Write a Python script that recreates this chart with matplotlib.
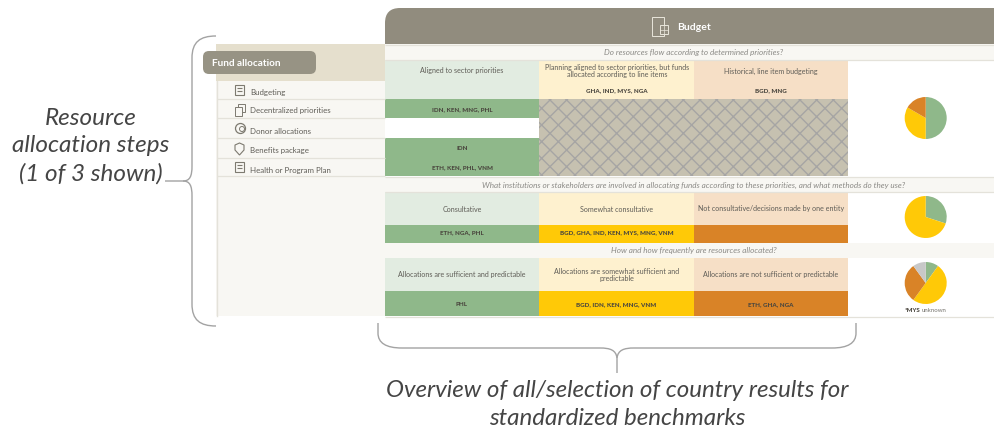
import matplotlib
matplotlib.use('Agg')
import matplotlib.pyplot as plt
from matplotlib.patches import Circle, FancyBboxPatch, PathPatch, Polygon, Rectangle
from matplotlib.path import Path

plt.rcParams['font.family'] = ['Lato', 'DejaVu Sans']
plt.rcParams['hatch.linewidth'] = 1.0

W, H = 994, 430

# Data
header_title = 'Budget'
section_title = 'Fund allocation'
row_labels = ['Budgeting', 'Decentralized priorities', 'Donor allocations',
              'Benefits package', 'Health or Program Plan']
questions = ['Do resources flow according to determined priorities?',
             'What institutions or stakeholders are involved in allocating funds according to these priorities, and what methods do they use?',
             'How and how frequently are resources allocated?']
q1_levels = ['Aligned to sector priorities',
             'Planning aligned to sector priorities, but funds\nallocated according to line items',
             'Historical, line item budgeting']
q1_countries = ['GHA, IND, MYS, NGA', 'BGD, MNG']
q1_green = ['IDN, KEN, MNG, PHL', '', 'IDN', 'ETH, KEN, PHL, VNM']
q2_levels = ['Consultative', 'Somewhat consultative', 'Not consultative/decisions made by one entity']
q2_countries = ['ETH, NGA, PHL', 'BGD, GHA, IND, KEN, MYS, MNG, VNM', '']
q3_levels = ['Allocations are sufficient and predictable',
             'Allocations are somewhat sufficient and\npredictable',
             'Allocations are not sufficient or predictable']
q3_countries = ['PHL', 'BGD, IDN, KEN, MNG, VNM', 'ETH, GHA, NGA']
pie1_values = [6, 4, 2]
pie2_values = [3, 7]
pie3_values = [1, 5, 3, 1]
left_note = 'Resource\nallocation steps\n(1 of 3 shown)'
bottom_note = 'Overview of all/selection of country results for\nstandardized benchmarks'

# Colours
GREEN, YELLOW, ORANGE, GREY = '#8fb88a', '#ffc907', '#d98327', '#c8c8c8'
LIGHT = ['#e2ece1', '#fef1cf', '#f6dfc6']
STRONG = [GREEN, YELLOW, ORANGE]
HEADER = '#918c7e'
PAPER = '#f8f7f3'
BEIGE = '#e5dfcd'
LINE = '#e4e2da'
TEXT = '#5f5d57'
NOTE = '#454545'
ICON = '#7d7a70'

COLS = [385, 539, 694, 848]

fig = plt.figure(figsize=(W / 100, H / 100), dpi=100)
ax = fig.add_axes([0, 0, 1, 1])
ax.set_xlim(0, W)
ax.set_ylim(H, 0)
ax.axis('off')


def box(x0, y0, x1, y1, color, **kw):
    ax.add_patch(Rectangle((x0, y0), x1 - x0, y1 - y0, facecolor=color, edgecolor='none', **kw))


def rounded(x0, y0, x1, y1, r, color):
    ax.add_patch(FancyBboxPatch((x0, y0), x1 - x0, y1 - y0, boxstyle=f'round,pad=0,rounding_size={r}',
                                facecolor=color, edgecolor='none', mutation_aspect=1))


def curve(points, lw=1.0):
    # points: start, then (ctrl, ctrl, end) triples for bezier segments, or single points for lines
    verts, codes = [points[0]], [Path.MOVETO]
    for seg in points[1:]:
        if len(seg) == 3:
            verts += list(seg)
            codes += [Path.CURVE4] * 3
        else:
            verts.append(seg)
            codes.append(Path.LINETO)
    ax.add_patch(PathPatch(Path(verts, codes), fill=False, edgecolor='#a3a3a3', lw=lw))


def cell_text(x, y, s, size=5.15):
    ax.text(x, y, s, ha='center', va='center', fontsize=size, color=TEXT, linespacing=1.0)


def codes_text(x, y, s, size=4.5):
    ax.text(x, y, s, ha='center', va='center', fontsize=size, color='#4a463e', fontweight='black')


def question(y, s):
    ax.text(694, y, s, ha='center', va='center', fontsize=5.9, color='#8b8a86', style='italic')


def hline(x0, x1, y, color=LINE, lw=0.9):
    ax.plot([x0, x1], [y, y], color=color, lw=lw, solid_capstyle='butt')


def doc_icon(x, y, w=9, h=10):
    ax.add_patch(Rectangle((x, y), w, h, facecolor='none', edgecolor=ICON, lw=0.8))
    for i in range(2):
        hline(x + 2, x + w - 2, y + 3 + i * 3, color=ICON, lw=0.8)


def pie(cx, cy, r, values, colors):
    pax = fig.add_axes([(cx - r) / W, 1 - (cy + r) / H, 2 * r / W, 2 * r / H])
    pax.pie(values, colors=colors, startangle=90, counterclock=False, radius=1)
    pax.set_xlim(-1, 1)
    pax.set_ylim(-1, 1)


# Left panel
box(216, 44, 385, 316, PAPER)
box(216, 44, 385, 81, BEIGE)
ax.plot([216.5, 216.5], [81, 316], color=LINE, lw=1)
for y in [99, 118, 138, 158, 176]:
    hline(217, 385, y)
rounded(203, 51, 316, 74, 6, '#979384')
ax.text(212, 63.5, section_title, ha='left', va='center', fontsize=7.2, color='white', fontweight='bold')
for y, label in zip([92, 111, 131, 151, 170], row_labels):
    ax.text(250, y, label, ha='left', va='center', fontsize=5.7, color=TEXT)

# Row icons
doc_icon(235, 85)
ax.add_patch(Rectangle((238, 104), 7, 8, facecolor='none', edgecolor=ICON, lw=0.7))
ax.add_patch(Rectangle((235, 107), 7, 9, facecolor=PAPER, edgecolor=ICON, lw=0.7))
ax.add_patch(Circle((240.5, 128.5), 5, facecolor='none', edgecolor=ICON, lw=0.9))
ax.add_patch(Circle((242, 129), 2.5, facecolor='none', edgecolor=ICON, lw=0.7))
ax.add_patch(Polygon([(235, 145), (239.5, 143), (244, 145), (244, 150), (239.5, 155), (235, 150)],
                     closed=True, facecolor='none', edgecolor=ICON, lw=0.8))
doc_icon(235, 162)

# Header
rounded(385, 8, 1030, 70, 15, HEADER)
ax.add_patch(Rectangle((652, 17), 12, 19, facecolor='none', edgecolor='#e9e6db', lw=0.7))
ax.add_patch(Rectangle((660, 25), 8, 9, facecolor=HEADER, edgecolor='#e9e6db', lw=0.7))
hline(660, 668, 29.5, color='#e9e6db', lw=0.5)
ax.plot([664, 664], [25, 34], color='#e9e6db', lw=0.5)
ax.text(677, 27, header_title, ha='left', va='center', fontsize=7.5, color='white', fontweight='bold')

# Question bands and white result column
box(848, 60, W, 316, 'white')
box(385, 44, W, 60, PAPER)
box(385, 177, W, 192, PAPER)
box(385, 243, W, 258, PAPER)
hline(385, W, 44.5)
hline(385, W, 60)
hline(385, W, 177)
hline(385, W, 192)
hline(385, W, 316.5)
question(53, questions[0])
question(185, questions[1])
question(251, questions[2])

# First question
for i in range(3):
    box(COLS[i], 60, COLS[i + 1], 99, LIGHT[i])
cell_text(462, 71, q1_levels[0])
cell_text(617, 71, q1_levels[1])
cell_text(771, 71, q1_levels[2])
codes_text(617, 91, q1_countries[0])
codes_text(771, 91, q1_countries[1])
box(385, 99, 539, 118, GREEN)
box(385, 138, 539, 176, GREEN)
codes_text(462, 110, q1_green[0])
codes_text(462, 149, q1_green[2])
codes_text(462, 168, q1_green[3])
ax.add_patch(Rectangle((539, 99), 309, 77, facecolor='#c6c1b0', edgecolor='#a6a5a4', hatch='xx', lw=0))

# Second question
for i in range(3):
    box(COLS[i], 192, COLS[i + 1], 225, LIGHT[i])
    box(COLS[i], 225, COLS[i + 1], 243, STRONG[i])
    cell_text((COLS[i] + COLS[i + 1]) / 2, 209, q2_levels[i])
    codes_text((COLS[i] + COLS[i + 1]) / 2, 233, q2_countries[i])

# Third question
for i in range(3):
    box(COLS[i], 258, COLS[i + 1], 291, LIGHT[i])
    box(COLS[i], 291, COLS[i + 1], 316, STRONG[i])
    cell_text((COLS[i] + COLS[i + 1]) / 2, 275, q3_levels[i])
    codes_text((COLS[i] + COLS[i + 1]) / 2, 305, q3_countries[i])

ax.text(905, 310, '*MYS', ha='left', va='center', fontsize=4.4, color='#4a463e', fontweight='black')
ax.text(922, 310.5, 'unknown', ha='left', va='center', fontsize=4.4, color='#77756f')

# Pies
pie(925.7, 118, 21, pie1_values, [GREEN, YELLOW, ORANGE])
pie(925.7, 217, 21, pie2_values, [GREEN, YELLOW])
pie(925.7, 283, 21, pie3_values, [GREEN, YELLOW, ORANGE, GREY])

# Braces
curve([(216, 36), ((200, 36), (192, 42), (192, 58)), (192, 166), ((192, 176), (190, 181), (183, 181)), (165, 181)])
curve([(183, 181), ((190, 181), (192, 186), (192, 196)), (192, 304), ((192, 320), (200, 326), (216, 326))])
curve([(378, 323), (378, 333), ((378, 343), (386, 348), (402, 348)), (600, 348), ((610, 348), (616, 350), (617, 358))])
curve([(856, 323), (856, 333), ((856, 343), (848, 348), (832, 348)), (634, 348), ((624, 348), (618, 350), (617, 358)), (617, 373)])

# Notes
ax.text(91, 146, left_note, ha='center', va='center', fontsize=17.5, color=NOTE, style='italic',
        linespacing=1.38)
ax.text(617, 404.5, bottom_note, ha='center', va='center', fontsize=17.4, color=NOTE, style='italic',
        linespacing=1.38)

fig.savefig('out.png', dpi=100)
